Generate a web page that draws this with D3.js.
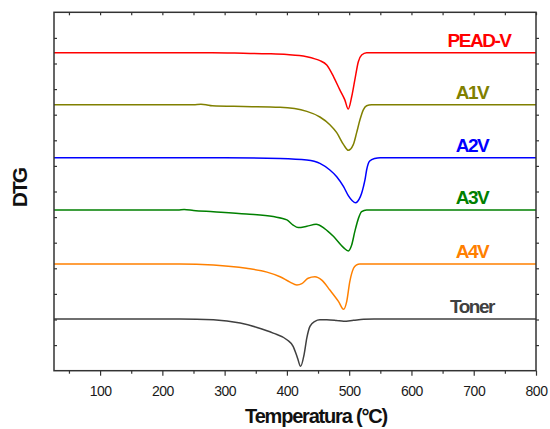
<!DOCTYPE html>
<html>
<head>
<meta charset="utf-8">
<script src="https://cdn.jsdelivr.net/npm/d3@7"></script>
<style>
  html, body { margin: 0; padding: 0; background: #fff; }
  svg { display: block; }
  text { font-family: "Liberation Sans", Arial, sans-serif; }
</style>
</head>
<body>
<svg id="chart" width="550" height="429"></svg>
<script>
// DTG curves of the samples, stacked with a vertical offset (arbitrary units)
const seriesNames = ["PEAD-V", "A1V", "A2V", "A3V", "A4V", "Toner"];
const seriesColors = ["#ff0000", "#808000", "#0000ff", "#008000", "#ff8000", "#404040"];
const seriesOffsets = [12.42, 10.39, 8.32, 6.28, 4.17, 2.02];

const tempPEAD = [26, 200, 280, 330, 370, 400, 420, 432, 445, 453, 464, 475, 485, 493, 498.5, 504, 509, 514.7, 520, 528, 560, 800];
const dtgPEAD  = [0, 0, 0, -0.02, -0.04, -0.07, -0.11, -0.16, -0.24, -0.31, -0.48, -0.94, -1.45, -1.84, -2.2, -1.72, -1.07, -0.35, -0.09, 0, 0, 0];

const tempA1V = [26, 60, 100, 200, 250, 262, 270, 280, 330, 389, 432, 453, 469, 480, 491, 498.6, 506.6, 512, 517.3, 522.7, 528, 536, 800];
const dtgA1V  = [0, 0, 0, 0, 0, 0.015, 0, -0.04, -0.07, -0.1, -0.26, -0.48, -0.78, -1.09, -1.56, -1.78, -1.56, -1.09, -0.59, -0.2, -0.04, 0, 0];

const tempA2V = [26, 300, 389, 432, 453, 469, 480, 491, 498.6, 505, 510.5, 516, 520, 523, 525.5, 528, 533, 541, 550, 800];
const dtgA2V  = [0, 0, -0.03, -0.09, -0.22, -0.48, -0.74, -1.13, -1.48, -1.68, -1.76, -1.62, -1.39, -1.12, -0.85, -0.48, -0.13, -0.03, 0, 0];

const tempA3V = [26, 200, 225, 235, 250, 282, 335, 378, 400, 410, 418, 432, 447, 460, 475, 491, 498.6, 504, 509, 515, 520, 528, 800];
const dtgA3V  = [0, 0, 0, 0.015, -0.02, -0.07, -0.16, -0.26, -0.39, -0.59, -0.69, -0.64, -0.56, -0.72, -1.04, -1.47, -1.6, -1.37, -0.85, -0.32, -0.07, 0, 0];

const tempA4V = [26, 228, 282, 335, 368, 389, 405, 416, 424, 434, 445, 456, 469, 483, 491, 496, 501, 507, 512, 517, 800];
const dtgA4V  = [0, 0, -0.04, -0.17, -0.32, -0.5, -0.71, -0.82, -0.77, -0.56, -0.5, -0.63, -1.02, -1.47, -1.77, -1.47, -0.69, -0.17, -0.04, 0, 0];

const tempToner = [26, 228, 282, 325, 352, 378, 400, 410, 417, 422, 427.6, 432, 437, 445, 453, 464, 480, 491, 507, 523, 540, 800];
const dtgToner  = [0, 0, -0.03, -0.16, -0.33, -0.55, -0.81, -1.07, -1.52, -1.85, -1.39, -0.74, -0.29, -0.09, -0.03, -0.03, -0.06, -0.09, -0.05, -0.01, 0, 0];

const xMajorTicks = [100, 200, 300, 400, 500, 600, 700, 800];
const xMinorTicks = [50, 150, 250, 350, 450, 550, 650, 750];
const xTitle = "Temperatura (°C)";
const yTitle = "DTG";

const temps = [tempPEAD, tempA1V, tempA2V, tempA3V, tempA4V, tempToner];
const dtgs  = [dtgPEAD, dtgA1V, dtgA2V, dtgA3V, dtgA4V, dtgToner];

const svg = d3.select("#chart");
const plot = { left: 54, right: 536, top: 12.3, bottom: 370.7 };

const x = d3.scaleLinear().domain([26, 800]).range([plot.left, plot.right]);
const y = d3.scaleLinear().domain([0, 14]).range([plot.bottom, plot.top]);

const frameColor = "#333";

// curves
const line = d3.line()
  .x(d => x(d[0]))
  .y(d => y(d[1]))
  .curve(d3.curveMonotoneX);

seriesNames.forEach((name, i) => {
  const pts = temps[i].map((t, k) => [t, seriesOffsets[i] + dtgs[i][k]]);
  svg.append("path")
    .datum(pts)
    .attr("fill", "none")
    .attr("stroke", seriesColors[i])
    .attr("stroke-width", 1.5)
    .attr("stroke-linejoin", "round")
    .attr("d", line);
});

// series labels sit just above each baseline
seriesNames.forEach((name, i) => {
  svg.append("text")
    .attr("x", name === "PEAD-V" ? 479 : 472)
    .attr("y", y(seriesOffsets[i]) - 6)
    .attr("text-anchor", "middle")
    .attr("font-size", 19)
    .attr("font-weight", "bold")
    .attr("letter-spacing", "-1.5px")
    .attr("fill", seriesColors[i])
    .text(name);
});

// axes
function styleAxis(g) {
  g.select(".domain").remove();
  g.selectAll(".tick line").attr("stroke", frameColor).attr("stroke-width", 1.2);
}

svg.append("g")
  .attr("transform", `translate(0,${plot.bottom})`)
  .call(d3.axisBottom(x).tickValues(xMinorTicks).tickSize(3).tickFormat(""))
  .call(styleAxis);

const bottom = svg.append("g")
  .attr("transform", `translate(0,${plot.bottom})`)
  .call(d3.axisBottom(x).tickValues(xMajorTicks).tickSize(5).tickFormat(d3.format("d")))
  .call(styleAxis);
bottom.selectAll(".tick text")
  .attr("y", 15)
  .attr("dy", "0.71em")
  .attr("font-size", 14)
  .attr("letter-spacing", "-0.5px")
  .attr("font-family", "'Liberation Sans', Arial, sans-serif")
  .attr("fill", "#1a1a1a");

svg.append("g")
  .attr("transform", `translate(0,${plot.top})`)
  .call(d3.axisTop(x).tickValues(xMajorTicks.concat(xMinorTicks)).tickSize(-3).tickFormat(""))
  .call(styleAxis);

svg.append("g")
  .attr("transform", `translate(${plot.left},0)`)
  .call(d3.axisLeft(y).tickValues(d3.range(1, 14)).tickSize(-3).tickFormat(""))
  .call(styleAxis);

svg.append("g")
  .attr("transform", `translate(${plot.right},0)`)
  .call(d3.axisRight(y).tickValues(d3.range(1, 14)).tickSize(3).tickFormat(""))
  .call(styleAxis);

// frame
svg.append("rect")
  .attr("x", plot.left)
  .attr("y", plot.top)
  .attr("width", plot.right - plot.left)
  .attr("height", plot.bottom - plot.top)
  .attr("fill", "none")
  .attr("stroke", frameColor)
  .attr("stroke-width", 1.5);

// titles
svg.append("text")
  .attr("x", 316)
  .attr("y", 423)
  .attr("text-anchor", "middle")
  .attr("font-size", 20)
  .attr("font-weight", "bold")
  .attr("letter-spacing", "-1.2px")
  .attr("fill", "#111")
  .text(xTitle);

svg.append("text")
  .attr("transform", "translate(27,188) rotate(-90)")
  .attr("text-anchor", "middle")
  .attr("font-size", 21)
  .attr("font-weight", "bold")
  .attr("letter-spacing", "-2px")
  .attr("fill", "#111")
  .text(yTitle);
</script>
</body>
</html>
